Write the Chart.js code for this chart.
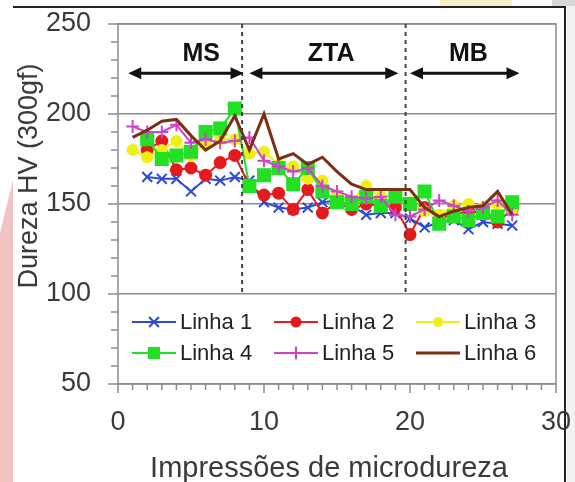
<!DOCTYPE html>
<html>
<head>
<meta charset="utf-8">
<script src="https://cdn.jsdelivr.net/npm/chart.js@4.4.1/dist/chart.umd.min.js"></script>
<style>
  html, body { margin: 0; padding: 0; background: #fff; }
  #wrap { width: 575px; height: 482px; }
</style>
</head>
<body>
<div id="wrap"><canvas id="grafico" width="575" height="482"></canvas></div>
<script>
// dados (impressao x dureza HV)
const impressoes = [1, 2, 3, 4, 5, 6, 7, 8, 9, 10, 11, 12, 13, 14, 15, 16, 17, 18, 19, 20, 21, 22, 23, 24, 25, 26, 27];
const linha1 = [null, 165, 164, 164, 157, 164, 163, 165, 163, 151, 148, 147, 148, 151, 152, 149, 144, 145, 145, 142, 137, 140, 141, 136, 140, 139, 138];
const linha2 = [null, 180, 185, 169, 170, 166, 173, 177, 160, 155, 156, 147, 158, 145, 151, 147, 150, 149, 148, 133, 148, 142, 144, 146, 145, 140, 147];
const linha3 = [180, 176, 180, 185, 177, 184, 186, 186, 178, 179, 172, 171, 164, 163, 155, 152, 160, 154, 155, 151, 146, 144, 149, 150, 148, 150, 147];
const linha4 = [null, 186, 175, 177, 179, 190, 192, 203, 160, 166, 170, 161, 170, 157, 151, 150, 154, 149, 154, 150, 157, 139, 143, 141, 145, 143, 151];
const linha5 = [193, 190, 190, 194, 184, 186, 184, 185, 187, 174, 171, 168, 170, 160, 157, 154, 153, 154, 144, 143, 147, 152, 149, 146, 148, 152, 144];
const linha6 = [187, 191, 196, 197, 188, 180, 185, 199, 180, 200, 175, 178, 172, 176, 168, 161, 158, 158, 158, 158, 148, 143, 146, 148, 149, 157, 144];

const nomesSeries = ['Linha 1', 'Linha 2', 'Linha 3', 'Linha 4', 'Linha 5', 'Linha 6'];

// zonas da solda
const zonas = ['MS', 'ZTA', 'MB'];
const zonaInicio = [0.7, 9.0, 20.0];
const zonaFim = [8.6, 19.2, 27.5];
const zonaTextoX = [5.7, 14.6, 24.0];
const divisorias = [8.5, 19.7];
const setaY = 222.6;
const textoZonaY = 233;

const TITULO_Y = 'Dureza HV (300gf)';
const TITULO_X = 'Impressões de microdureza';

const FONTE = 'Liberation Sans, Arial, sans-serif';
const COR_TEXTO = '#3a3a3a';
const COR_GRADE = '#8c8c8c';

const estilos = [
  { cor: '#2c4bd1', marcador: 'crossRot', raio: 7, largura: 2 },
  { cor: '#e41a1c', marcador: 'circle', raio: 5.5, largura: 2 },
  { cor: '#f0f010', marcador: 'circle', raio: 5, largura: 2 },
  { cor: '#22e022', marcador: 'rect', raio: 8.5, largura: 2 },
  { cor: '#cc44cc', marcador: 'cross', raio: 6.5, largura: 2 },
  { cor: '#7b3014', marcador: false, raio: 0, largura: 3 }
];

const series = [linha1, linha2, linha3, linha4, linha5, linha6];

function desenhaMarcador(ctx, tipo, x, y, r, cor) {
  ctx.save();
  ctx.fillStyle = cor;
  ctx.strokeStyle = cor;
  ctx.lineWidth = 2;
  ctx.beginPath();
  if (tipo === 'circle') {
    ctx.arc(x, y, r, 0, Math.PI * 2);
    ctx.fill();
  } else if (tipo === 'rect') {
    const s = r * Math.SQRT1_2;
    ctx.fillRect(x - s, y - s, 2 * s, 2 * s);
  } else if (tipo === 'crossRot') {
    const d = r * Math.SQRT1_2;
    ctx.moveTo(x - d, y - d); ctx.lineTo(x + d, y + d);
    ctx.moveTo(x - d, y + d); ctx.lineTo(x + d, y - d);
    ctx.stroke();
  } else if (tipo === 'cross') {
    ctx.moveTo(x - r, y); ctx.lineTo(x + r, y);
    ctx.moveTo(x, y - r); ctx.lineTo(x, y + r);
    ctx.stroke();
  }
  ctx.restore();
}

// fundo, moldura, titulos, ticks secundarios, zonas e legenda
const decoracao = {
  id: 'decoracao',
  beforeDraw(chart) {
    const ctx = chart.ctx;
    ctx.save();
    ctx.fillStyle = '#fff';
    ctx.fillRect(0, 0, chart.width, chart.height);
    ctx.fillStyle = '#f2c3c3';
    ctx.beginPath();
    ctx.moveTo(0, 233); ctx.lineTo(13, 180); ctx.lineTo(13, 482); ctx.lineTo(0, 482);
    ctx.fill();
    ctx.fillStyle = '#f7efc8';
    ctx.fillRect(440, 0, 72, 6);
    ctx.fillStyle = '#d8d8d8';
    ctx.fillRect(552, 0, 23, 6);
    ctx.fillStyle = '#f2f2f2';
    ctx.fillRect(567, 6, 8, 476);
    ctx.strokeStyle = '#222';
    ctx.lineWidth = 2;
    ctx.beginPath();
    ctx.moveTo(13, 7); ctx.lineTo(565, 7); ctx.lineTo(565, 482);
    ctx.stroke();

    // titulo do eixo x
    ctx.fillStyle = COR_TEXTO;
    ctx.font = '29px ' + FONTE;
    ctx.textAlign = 'center';
    ctx.textBaseline = 'alphabetic';
    ctx.fillText(TITULO_X, 329, 477);

    // titulo do eixo y
    ctx.translate(30, 176);
    ctx.rotate(-Math.PI / 2);
    ctx.font = '27px ' + FONTE;
    ctx.textBaseline = 'middle';
    ctx.fillText(TITULO_Y, 0, 0);
    ctx.restore();
  },
  beforeDatasetsDraw(chart) {
    const ctx = chart.ctx;
    const { left, right, top, bottom } = chart.chartArea;
    const xs = chart.scales.x;
    const ys = chart.scales.y;
    ctx.save();
    ctx.strokeStyle = COR_GRADE;
    ctx.lineWidth = 1.5;
    ctx.strokeRect(left, top, right - left, bottom - top);
    ctx.beginPath();
    for (let v = xs.min; v <= xs.max; v++) {
      const px = xs.getPixelForValue(v);
      ctx.moveTo(px, bottom);
      ctx.lineTo(px, bottom + (v % 10 === 0 ? 9 : 6));
    }
    for (let v = ys.min; v <= ys.max; v += 10) {
      const py = ys.getPixelForValue(v);
      ctx.moveTo(left - (v % 50 === 0 ? 10 : 7), py);
      ctx.lineTo(left, py);
    }
    ctx.stroke();
    ctx.restore();
  },
  afterDatasetsDraw(chart) {
    const ctx = chart.ctx;
    const { left, right, top, bottom } = chart.chartArea;
    const xs = chart.scales.x;
    const ys = chart.scales.y;
    ctx.save();
    ctx.strokeStyle = '#444';
    ctx.lineWidth = 2;
    ctx.setLineDash([4, 4]);
    divisorias.forEach(v => {
      const px = xs.getPixelForValue(v);
      ctx.beginPath();
      ctx.moveTo(px, top); ctx.lineTo(px, bottom);
      ctx.stroke();
    });
    ctx.setLineDash([]);
    const py = ys.getPixelForValue(setaY);
    const ty = ys.getPixelForValue(textoZonaY);
    ctx.fillStyle = '#111';
    ctx.strokeStyle = '#111';
    ctx.lineWidth = 3;
    ctx.font = 'bold 25px ' + FONTE;
    ctx.textAlign = 'center';
    ctx.textBaseline = 'middle';
    zonas.forEach((nome, i) => {
      const a = xs.getPixelForValue(zonaInicio[i]);
      const b = xs.getPixelForValue(zonaFim[i]);
      ctx.beginPath();
      ctx.moveTo(a + 10, py); ctx.lineTo(b - 10, py);
      ctx.stroke();
      ctx.beginPath();
      ctx.moveTo(a, py); ctx.lineTo(a + 13, py - 6); ctx.lineTo(a + 13, py + 6);
      ctx.closePath(); ctx.fill();
      ctx.beginPath();
      ctx.moveTo(b, py); ctx.lineTo(b - 13, py - 6); ctx.lineTo(b - 13, py + 6);
      ctx.closePath(); ctx.fill();
      ctx.fillText(nome, xs.getPixelForValue(zonaTextoX[i]), ty);
    });

    // legenda dentro da area do grafico
    const caixaTopo = ys.getPixelForValue(100) + 2;
    ctx.fillStyle = '#fff';
    ctx.fillRect(left + 2, caixaTopo, right - left - 4, bottom - caixaTopo - 2);
    const colX = [132, 274, 416];
    const linY = [322, 353];
    ctx.font = '22px ' + FONTE;
    ctx.textAlign = 'left';
    ctx.textBaseline = 'middle';
    chart.data.datasets.forEach((ds, i) => {
      const est = estilos[i];
      const x0 = colX[i % 3];
      const y0 = linY[Math.floor(i / 3)];
      ctx.strokeStyle = est.cor;
      ctx.lineWidth = est.largura;
      ctx.beginPath();
      ctx.moveTo(x0, y0); ctx.lineTo(x0 + 44, y0);
      ctx.stroke();
      if (est.marcador) desenhaMarcador(ctx, est.marcador, x0 + 22, y0, est.raio, est.cor);
      ctx.fillStyle = '#222';
      ctx.fillText(ds.label, x0 + 48, y0 + 1);
    });
    ctx.restore();
  }
};

const ctxGrafico = document.getElementById('grafico').getContext('2d');

const grafico = new Chart(ctxGrafico, {
  type: 'line',
  data: {
    datasets: series.map((dados, i) => ({
      label: nomesSeries[i],
      data: impressoes.map((x, j) => ({ x: x, y: dados[j] })),
      borderColor: estilos[i].cor,
      backgroundColor: estilos[i].cor,
      borderWidth: estilos[i].largura,
      pointStyle: estilos[i].marcador || 'circle',
      pointRadius: estilos[i].raio,
      pointBorderWidth: 2,
      pointHoverRadius: estilos[i].raio,
      tension: 0,
      fill: false,
      order: 6 - i
    }))
  },
  options: {
    responsive: false,
    animation: false,
    devicePixelRatio: 1,
    layout: { padding: { top: 24, right: 19, left: 0, bottom: 0 } },
    plugins: {
      legend: { display: false },
      tooltip: { enabled: false }
    },
    scales: {
      x: {
        type: 'linear',
        min: 0,
        max: 30,
        afterFit: scale => {
          scale.height = 98;
          scale.paddingLeft = 0;
          scale.paddingRight = 0;
        },
        grid: { display: false, drawTicks: false, tickLength: 0 },
        border: { display: false },
        ticks: {
          stepSize: 10,
          padding: 22,
          color: COR_TEXTO,
          font: { size: 27, family: FONTE }
        }
      },
      y: {
        min: 50,
        max: 250,
        afterFit: scale => {
          scale.width = 118;
          scale.paddingTop = 0;
          scale.paddingBottom = 0;
        },
        grid: { color: COR_GRADE, lineWidth: 1.5, drawTicks: false, tickLength: 0 },
        border: { display: false },
        ticks: {
          stepSize: 50,
          padding: 27,
          color: COR_TEXTO,
          font: { size: 27, family: FONTE }
        }
      }
    }
  },
  plugins: [decoracao]
});
</script>
</body>
</html>
